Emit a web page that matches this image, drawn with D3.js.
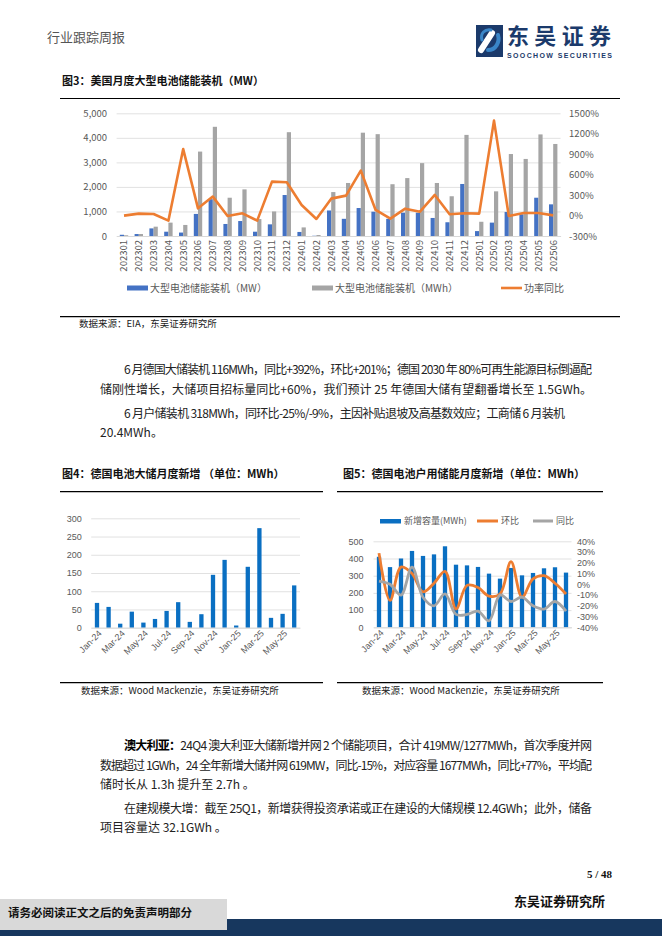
<!DOCTYPE html>
<html><head><meta charset="utf-8">
<script src="https://cdn.jsdelivr.net/npm/d3@7/dist/d3.min.js"></script>
<style>
html,body{margin:0;padding:0;background:#fff;}
svg{display:block;}
</style></head>
<body>
<svg id="page" width="662" height="936"></svg>
<script>
// ---------- DATA ----------
const usMonths = ["202301","202302","202303","202304","202305","202306","202307","202308","202309","202310","202311","202312",
  "202401","202402","202403","202404","202405","202406","202407","202408","202409","202410","202411","202412",
  "202501","202502","202503","202504","202505","202506"];
const usMW  = [50,80,310,175,140,900,1500,490,610,175,475,1670,165,10,1040,700,1140,990,700,950,950,735,560,2120,200,545,980,885,1560,1290];
const usMWh = [30,80,380,545,450,3440,4450,1560,1900,690,1000,4230,350,40,1790,2160,4210,4150,2110,2360,2970,2160,1620,4120,580,1820,3340,3140,4140,3750];
const usYoY = [-1,28,23,-75,975,106,278,-6,33,-75,498,488,155,-50,248,292,659,82,-45,101,57,302,18,33,28,1393,-6,38,38,3];
const usLeftTicks = [0,1000,2000,3000,4000,5000];
const usRightTicks = [-300,0,300,600,900,1200,1500];
const usLegend = ["大型电池储能装机（MW）","大型电池储能装机（MWh）","功率同比"];

const deMonths = ["Jan-24","Feb-24","Mar-24","Apr-24","May-24","Jun-24","Jul-24","Aug-24","Sep-24","Oct-24","Nov-24","Dec-24",
  "Jan-25","Feb-25","Mar-25","Apr-25","May-25","Jun-25"];
const deLarge = [68,57,11,44,14,24,46,70,16,37,145,186,6,167,273,27,38,116];
const deLargeTicks = [0,50,100,150,200,250,300];

const deHome    = [410,350,400,444,415,424,471,364,360,351,312,283,345,302,316,343,349,318];
const deHomeMoM = [29,-15,16,10,-7,1,12,-23,-1,-3,-11,-9,21,-12,5,8,1,-9];
const deHomeYoY = [3,0,-10,16,-12,-20,-9,-28,-28,-25,-34,-10,-16,-12,-20,-23,-16,-25];
const deHomeLeftTicks = [0,100,200,300,400,500];
const deHomeRightTicks = [-40,-30,-20,-10,0,10,20,30,40];
const deHomeLegend = ["新增容量(MWh)","环比","同比"];
const deLabelMonths = deMonths.filter((d,i)=>i%2===0);

// ---------- STYLE ----------
const CJK = "'Noto Sans CJK SC','Noto Sans',sans-serif";
const ARIAL = "'Liberation Sans',Arial,sans-serif";
const C_BLUE = "#4472C4", C_GRAY = "#A5A5A5", C_ORANGE = "#ED7D31", C_BLUE2 = "#0A6FC2";
const C_GRID = "#D9D9D9", C_TICK = "#595959";

const svg = d3.select("#page");
svg.append("rect").attr("width",662).attr("height",936).attr("fill","#fff");

// ---------- HEADER ----------
svg.append("text").attr("x",47).attr("y",37).attr("dy","0.35em")
  .attr("font-family",CJK).attr("font-size",13).attr("fill","#555").text("行业跟踪周报");
const logo = svg.append("g");
logo.append("rect").attr("x",476).attr("y",25).attr("width",27).attr("height",32).attr("fill","#1b3a6b");
logo.append("path").attr("d","M481,50 L492,33").attr("stroke","#fff").attr("stroke-width",6).attr("stroke-linecap","round");
logo.append("path").attr("d","M488,50 C496,50 500,42 498,35").attr("stroke","#3a86c8").attr("stroke-width",4).attr("fill","none").attr("stroke-linecap","round");
logo.append("path").attr("d","M482,40 C480,33 485,29 491,30").attr("stroke","#3a86c8").attr("stroke-width",3).attr("fill","none").attr("stroke-linecap","round");
logo.append("text").attr("x",507).attr("y",36).attr("dy","0.35em").attr("font-family",CJK).attr("font-weight","bold")
  .attr("font-size",22).attr("fill","#1b3a6b").attr("textLength",104).text("东吴证券");
logo.append("text").attr("x",507).attr("y",55.5).attr("dy","0.35em").attr("font-family",ARIAL).attr("font-weight","bold")
  .attr("font-size",7).attr("fill","#1b3a6b").attr("textLength",105).text("SOOCHOW SECURITIES");

function hline(x1,x2,y,w){ svg.append("line").attr("x1",x1).attr("x2",x2).attr("y1",y).attr("y2",y).attr("stroke","#000").attr("stroke-width",w||1); }
function caption(x,y,t){ svg.append("text").attr("x",x).attr("y",y).attr("dy","0.35em").attr("font-family",CJK).attr("font-weight","bold").attr("font-size",11).attr("fill","#111").text(t); }
function source(x,y,t){ svg.append("text").attr("x",x).attr("y",y).attr("dy","0.35em").attr("font-family",CJK).attr("font-size",9.5).attr("fill","#222").text(t); }

// ---------- CHART 3 ----------
caption(62,81,"图3：美国月度大型电池储能装机（MW）");
hline(60,620,98.5,1.2);
hline(60,620,316.7,1.2);
source(79,324,"数据来源：EIA，东吴证券研究所");

const g3 = svg.append("g");
const x3 = d3.scaleBand().domain(usMonths).range([116.6,560.6]);
const yL3 = d3.scaleLinear().domain([0,5000]).range([236,113.3]);
const yR3 = d3.scaleLinear().domain([-300,1500]).range([236,113.3]);
const aL3 = g3.append("g").attr("transform","translate(116.6,0)")
  .call(d3.axisLeft(yL3).tickValues(usLeftTicks).tickFormat(d3.format(",")).tickSize(-444).tickPadding(9.5));
aL3.select(".domain").remove();
aL3.selectAll("line").attr("stroke",C_GRID).attr("stroke-width",0.8);
aL3.selectAll("text").attr("font-family",CJK).attr("font-size",9.5).attr("fill",C_TICK);
const aR3 = g3.append("g").attr("transform","translate(560.6,0)")
  .call(d3.axisRight(yR3).tickValues(usRightTicks).tickFormat(d=>d+"%").tickSize(0).tickPadding(8.5));
aR3.select(".domain").remove();
aR3.selectAll("text").attr("font-family",CJK).attr("font-size",9.5).attr("fill",C_TICK);
const aX3 = g3.append("g").attr("transform","translate(0,236)").call(d3.axisBottom(x3).tickSize(0));
aX3.select(".domain").attr("stroke",C_GRID);
aX3.selectAll("text").attr("transform","rotate(-90)").attr("x",-4).attr("y",0).attr("dy","0.35em")
  .attr("text-anchor","end").attr("font-family",CJK).attr("font-size",9.5).attr("fill",C_TICK);
const bw3 = 4.2;
g3.selectAll(".mw").data(usMonths).join("rect")
  .attr("x",d=>x3(d)+x3.bandwidth()/2-bw3).attr("width",bw3)
  .attr("y",(d,i)=>yL3(usMW[i])).attr("height",(d,i)=>yL3(0)-yL3(usMW[i])).attr("fill",C_BLUE);
g3.selectAll(".mwh").data(usMonths).join("rect")
  .attr("x",d=>x3(d)+x3.bandwidth()/2).attr("width",bw3)
  .attr("y",(d,i)=>yL3(usMWh[i])).attr("height",(d,i)=>yL3(0)-yL3(usMWh[i])).attr("fill",C_GRAY);
g3.append("path").datum(usYoY)
  .attr("d",d3.line().x((d,i)=>x3(usMonths[i])+x3.bandwidth()/2).y(d=>yR3(d)))
  .attr("fill","none").attr("stroke",C_ORANGE).attr("stroke-width",2.6).attr("stroke-linejoin","round");
// legend
const lg3 = g3.append("g").attr("font-family",CJK).attr("font-size",10).attr("fill",C_TICK);
lg3.append("rect").attr("x",127).attr("y",285.5).attr("width",21).attr("height",5).attr("fill",C_BLUE);
lg3.append("text").attr("x",150).attr("y",288).attr("dy","0.35em").text(usLegend[0]);
lg3.append("rect").attr("x",312).attr("y",285.5).attr("width",21).attr("height",5).attr("fill",C_GRAY);
lg3.append("text").attr("x",335).attr("y",288).attr("dy","0.35em").text(usLegend[1]);
lg3.append("line").attr("x1",501).attr("x2",522).attr("y1",288).attr("y2",288).attr("stroke",C_ORANGE).attr("stroke-width",2.6);
lg3.append("text").attr("x",524).attr("y",288).attr("dy","0.35em").text(usLegend[2]);

// ---------- BODY TEXT ----------
function para(x,y,parts,len){
  const t = svg.append("text").attr("x",x).attr("y",y).attr("dy","0.36em").attr("font-family",CJK).attr("font-size",12).attr("fill","#222");
  parts.forEach(p=>{ const s=t.append("tspan").text(p.t); if(p.b) s.attr("font-weight","bold").attr("fill","#000"); });
  if(len) t.attr("textLength",len).attr("lengthAdjust","spacing");
}
para(124,370,[{t:"6 月德国大储装机 116MWh，同比+392%，环比+201%；德国 2030 年 80%可再生能源目标倒逼配"}],468);
para(100,390,[{t:"储刚性增长，大储项目招标量同比+60%，我们预计 25 年德国大储有望翻番增长至 1.5GWh。"}],492);
para(124,414,[{t:"6 月户储装机 318MWh，同环比-25%/-9%，主因补贴退坡及高基数效应；工商储 6 月装机"}],441);
para(100,433,[{t:"20.4MWh。"}]);
para(124,746,[{t:"澳大利亚：",b:true},{t:"24Q4 澳大利亚大储新增并网 2 个储能项目，合计 419MW/1277MWh，首次季度并网"}],468);
para(100,766,[{t:"数据超过 1GWh，24 全年新增大储并网 619MW，同比-15%，对应容量 1677MWh，同比+77%，平均配"}],492);
para(100,785,[{t:"储时长从 1.3h 提升至 2.7h 。"}]);
para(124,809,[{t:"在建规模大增：截至 25Q1，新增获得投资承诺或正在建设的大储规模 12.4GWh；此外，储备"}],468);
para(100,828,[{t:"项目容量达 32.1GWh 。"}]);

// ---------- CHART 4 ----------
caption(62,474,"图4：德国电池大储月度新增 （单位：MWh）");
hline(60,323,491.7,1.2);
hline(60,323,682.7,1.2);
source(81,691,"数据来源：Wood Mackenzie，东吴证券研究所");
const g4 = svg.append("g");
const x4 = d3.scaleBand().domain(deMonths).range([91.2,300]);
const y4 = d3.scaleLinear().domain([0,300]).range([627.7,518.3]);
const aL4 = g4.append("g").attr("transform","translate(91.2,0)")
  .call(d3.axisLeft(y4).tickValues(deLargeTicks).tickSize(-208.8).tickPadding(9.5));
aL4.select(".domain").remove();
aL4.selectAll("line").attr("stroke",C_GRID).attr("stroke-width",0.8);
aL4.selectAll("text").attr("font-family",ARIAL).attr("font-size",9).attr("fill",C_TICK);
g4.selectAll(".b").data(deMonths).join("rect")
  .attr("x",d=>x4(d)+x4.bandwidth()/2-2.15).attr("width",4.3)
  .attr("y",(d,i)=>y4(deLarge[i])).attr("height",(d,i)=>y4(0)-y4(deLarge[i])).attr("fill",C_BLUE2);
const aX4 = g4.append("g").attr("transform","translate(0,627.7)")
  .call(d3.axisBottom(x4).tickValues(deLabelMonths).tickSize(0));
aX4.select(".domain").attr("stroke",C_GRID);
aX4.selectAll("text").attr("transform",d=>"translate(3,4) rotate(-45)").attr("x",0).attr("y",0).attr("dy","0.35em")
  .attr("text-anchor","end").attr("font-family",ARIAL).attr("font-size",9).attr("fill",C_TICK);

// ---------- CHART 5 ----------
caption(343,474,"图5：德国电池户用储能月度新增（单位：MWh）");
hline(337,603,491.7,1.2);
hline(337,603,682.7,1.2);
source(362,691,"数据来源：Wood Mackenzie，东吴证券研究所");
const g5 = svg.append("g");
const x5 = d3.scaleBand().domain(deMonths).range([373.5,571.5]);
const yL5 = d3.scaleLinear().domain([0,500]).range([627.3,541.3]);
const yR5 = d3.scaleLinear().domain([-40,40]).range([627.3,541.3]);
const aL5 = g5.append("g").attr("transform","translate(373.5,0)")
  .call(d3.axisLeft(yL5).tickValues(deHomeLeftTicks).tickSize(-198).tickPadding(10));
aL5.select(".domain").remove();
aL5.selectAll("line").attr("stroke",C_GRID).attr("stroke-width",0.8);
aL5.selectAll("text").attr("font-family",ARIAL).attr("font-size",9).attr("fill",C_TICK);
const aR5 = g5.append("g").attr("transform","translate(571.5,0)")
  .call(d3.axisRight(yR5).tickValues(deHomeRightTicks).tickFormat(d=>d+"%").tickSize(0).tickPadding(5.5));
aR5.select(".domain").remove();
aR5.selectAll("text").attr("font-family",ARIAL).attr("font-size",9).attr("fill",C_TICK);
g5.selectAll(".b").data(deMonths).join("rect")
  .attr("x",d=>x5(d)+x5.bandwidth()/2-2.15).attr("width",4.3)
  .attr("y",(d,i)=>yL5(deHome[i])).attr("height",(d,i)=>yL5(0)-yL5(deHome[i])).attr("fill",C_BLUE2);
const aX5 = g5.append("g").attr("transform","translate(0,627.3)")
  .call(d3.axisBottom(x5).tickValues(deLabelMonths).tickSize(0));
aX5.select(".domain").attr("stroke",C_GRID);
aX5.selectAll("text").attr("transform","translate(3,4) rotate(-45)").attr("x",0).attr("y",0).attr("dy","0.35em")
  .attr("text-anchor","end").attr("font-family",ARIAL).attr("font-size",9).attr("fill",C_TICK);
const cx5 = (d,i)=>x5(deMonths[i])+x5.bandwidth()/2;
g5.append("path").datum(deHomeMoM)
  .attr("d",d3.line().x(cx5).y(d=>yR5(d)).curve(d3.curveCatmullRom))
  .attr("fill","none").attr("stroke",C_ORANGE).attr("stroke-width",2.8);
g5.append("path").datum(deHomeYoY)
  .attr("d",d3.line().x(cx5).y(d=>yR5(d)).curve(d3.curveCatmullRom))
  .attr("fill","none").attr("stroke",C_GRAY).attr("stroke-width",2.8);
const lg5 = g5.append("g").attr("font-family",CJK).attr("font-size",9).attr("fill",C_TICK);
lg5.append("rect").attr("x",380).attr("y",519).attr("width",21).attr("height",4.5).attr("fill",C_BLUE2);
lg5.append("text").attr("x",404).attr("y",521).attr("dy","0.35em").text(deHomeLegend[0]);
lg5.append("line").attr("x1",477).attr("x2",498).attr("y1",521).attr("y2",521).attr("stroke",C_ORANGE).attr("stroke-width",3);
lg5.append("text").attr("x",501).attr("y",521).attr("dy","0.35em").text(deHomeLegend[1]);
lg5.append("line").attr("x1",533).attr("x2",553).attr("y1",521).attr("y2",521).attr("stroke",C_GRAY).attr("stroke-width",3);
lg5.append("text").attr("x",556).attr("y",521).attr("dy","0.35em").text(deHomeLegend[2]);

// ---------- FOOTER ----------
svg.append("text").attr("x",612).attr("y",874).attr("dy","0.35em").attr("text-anchor","end")
  .attr("font-family","'Liberation Serif',serif").attr("font-weight","bold").attr("font-size",11).attr("fill","#111").text("5 / 48");
svg.append("text").attr("x",605).attr("y",901).attr("dy","0.35em").attr("text-anchor","end")
  .attr("font-family",CJK).attr("font-weight","bold").attr("font-size",13).attr("fill","#111").text("东吴证券研究所");
svg.append("rect").attr("x",0).attr("y",919).attr("width",662).attr("height",17).attr("fill","#17375e");
svg.append("rect").attr("x",0).attr("y",899).attr("width",227).attr("height",31).attr("fill","#d9d9d9");
svg.append("text").attr("x",8).attr("y",913).attr("dy","0.35em").attr("font-family",CJK).attr("font-weight","bold")
  .attr("font-size",11.5).attr("fill","#111").text("请务必阅读正文之后的免责声明部分");
</script>
</body></html>
